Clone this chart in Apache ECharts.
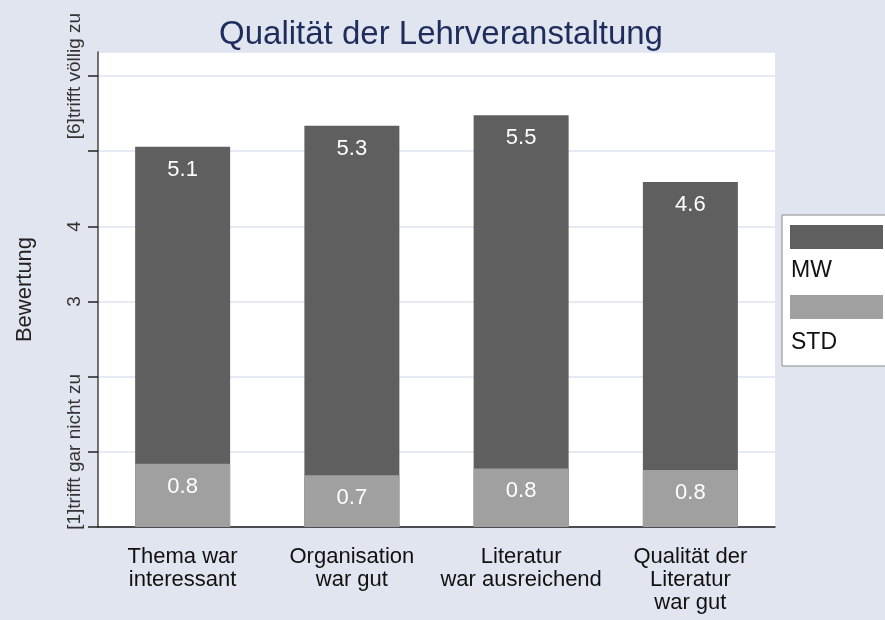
<!DOCTYPE html>
<html>
<head>
<meta charset="utf-8">
<script src="https://cdn.jsdelivr.net/npm/echarts@6/dist/echarts.min.js"></script>
<style>
  html, body { margin: 0; padding: 0; background: #e1e5f0; }
  #chart { width: 885px; height: 620px; }
</style>
</head>
<body>
<div id="chart"></div>
<script>
var categories = ['Thema war\ninteressant', 'Organisation\nwar gut', 'Literatur\nwar ausreichend', 'Qualität der\nLiteratur\nwar gut'];
var mwValues = [5.06, 5.34, 5.48, 4.59];
var stdValues = [0.84, 0.69, 0.78, 0.76];
var yTickLabels = { 1: '[1]trifft gar nicht zu', 3: '3', 4: '4', 6: '[6]trifft völlig zu' };

var myChart = echarts.init(document.getElementById('chart'));

var barLabel = {
  show: true,
  position: 'insideTop',
  distance: 12,
  color: '#ffffff',
  fontSize: 22,
  fontFamily: 'Liberation Sans',
  formatter: function (p) { return p.value.toFixed(1); }
};

var option = {
  backgroundColor: '#e1e5f0',
  animation: false,
  textStyle: { fontFamily: 'Liberation Sans' },
  title: {
    text: 'Qualität der Lehrveranstaltung',
    left: 436,
    top: 13,
    textAlign: 'center',
    textStyle: { color: '#1e2d5c', fontSize: 33, fontWeight: 'normal', fontFamily: 'Liberation Sans' }
  },
  legend: [{
    data: ['MW', 'STD'],
    orient: 'vertical',
    left: 782,
    top: 215,
    padding: [10, 30, 47, 8],
    itemWidth: 93,
    itemHeight: 24,
    itemGap: 46,
    icon: 'rect',
    backgroundColor: '#ffffff',
    borderColor: '#8a8a8a',
    borderWidth: 1,
    borderRadius: 0,
    selectedMode: false,
    formatter: function () { return ''; },
    textStyle: { fontSize: 1 }
  }, {
    data: ['MW', 'STD'],
    orient: 'vertical',
    left: 786,
    top: 259,
    z: 10,
    padding: 0,
    itemWidth: 0,
    itemHeight: 24,
    itemGap: 48,
    selectedMode: false,
    textStyle: { color: '#111111', fontSize: 23, lineHeight: 24, fontFamily: 'Liberation Sans' }
  }],
  grid: {
    left: 98,
    right: 110,
    top: 52,
    bottom: 93,
    show: true,
    backgroundColor: '#ffffff',
    borderWidth: 0
  },
  xAxis: {
    type: 'category',
    data: categories,
    axisLine: { lineStyle: { color: '#1a1a1a', width: 1.5 } },
    axisTick: { show: false },
    axisLabel: { color: '#111111', fontSize: 22, lineHeight: 23, margin: 18, interval: 0 }
  },
  yAxis: {
    type: 'value',
    min: 0,
    max: 6.32,
    interval: 1,
    name: 'Bewertung',
    nameLocation: 'middle',
    nameRotate: 90,
    nameGap: 62,
    nameTextStyle: { color: '#222222', fontSize: 22 },
    axisLine: { show: true, lineStyle: { color: '#444444', width: 1.5 } },
    axisTick: { show: true, length: 10, lineStyle: { color: '#222222', width: 1.5 } },
    axisLabel: {
      rotate: 90,
      margin: 14,
      color: '#333333',
      fontSize: 19,
      showMaxLabel: false,
      formatter: function (v) { return yTickLabels[v] || ''; }
    },
    splitLine: { show: true, lineStyle: { color: '#dde3f0', width: 1.5 } }
  },
  series: [{
    name: 'MW',
    type: 'bar',
    data: mwValues,
    barWidth: 95,
    barGap: '-100%',
    itemStyle: { color: '#5f5f5f' },
    label: barLabel
  }, {
    name: 'STD',
    type: 'bar',
    data: stdValues,
    barWidth: 95,
    barGap: '-100%',
    itemStyle: { color: '#a0a0a0' },
    label: barLabel
  }]
};

myChart.setOption(option);
</script>
</body>
</html>
